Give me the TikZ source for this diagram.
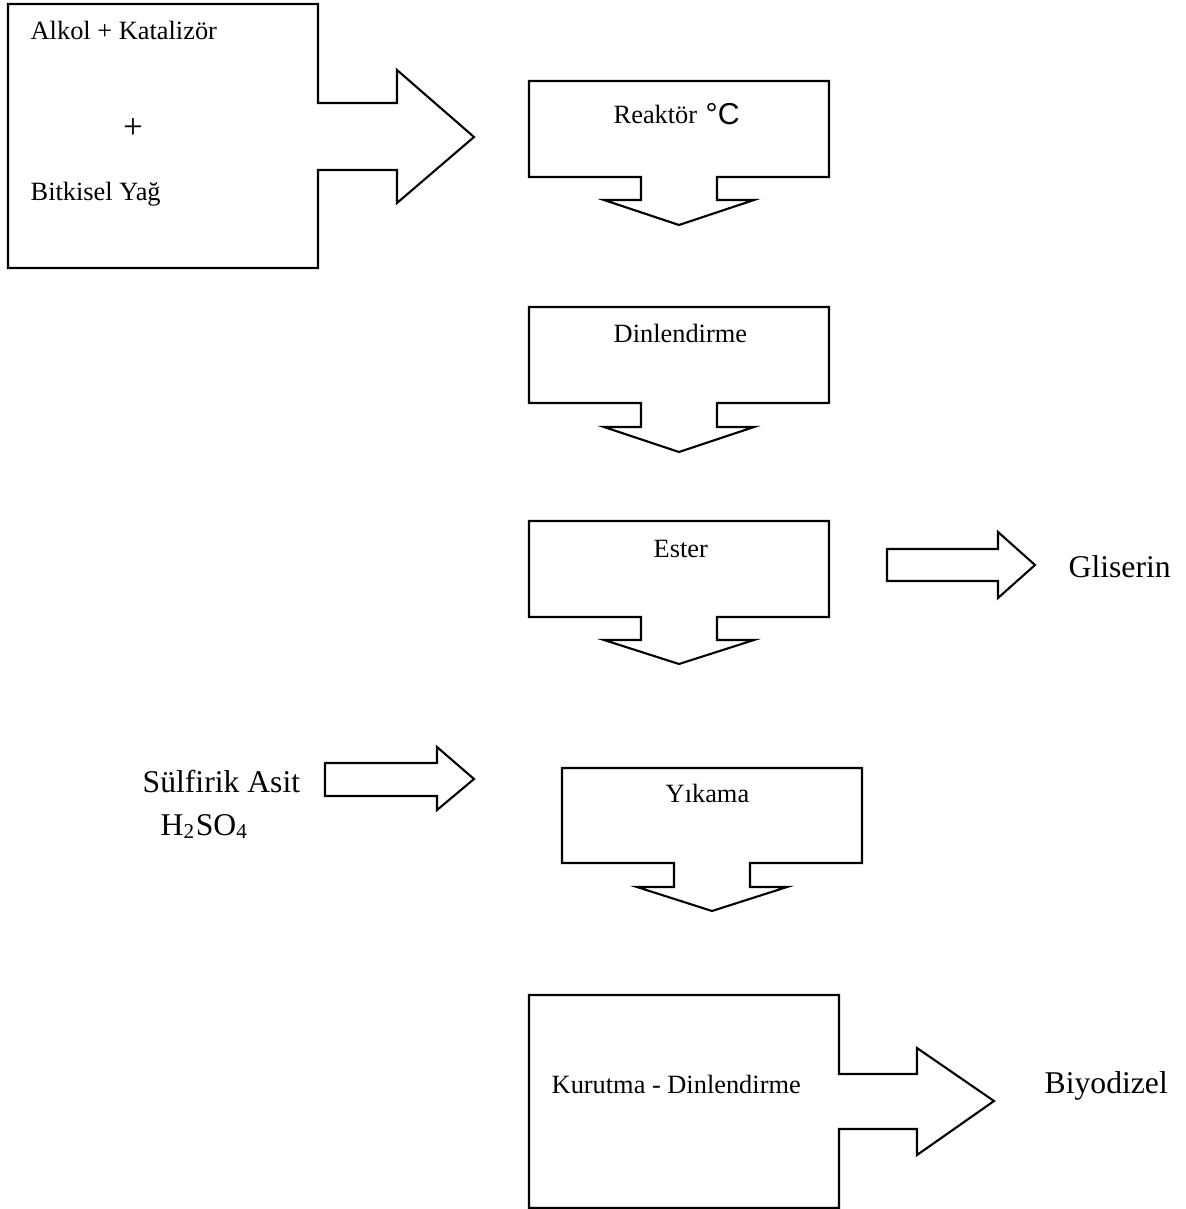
\documentclass[tikz,border=0pt]{standalone}
\usepackage{fontspec}
\setmainfont{Liberation Serif}
\newfontfamily\arialfont{Liberation Sans}

\tikzset{
  kutu/.style={draw=black, line width=0.6pt, line join=miter},
  yazi/.style={anchor=base west, inner sep=0pt, font=\fontsize{7.5pt}{9pt}\selectfont},
  buyukyazi/.style={anchor=base west, inner sep=0pt, font=\fontsize{9pt}{11pt}\selectfont},
}

\begin{document}
\begin{tikzpicture}[x=0.01cm, y=-0.01cm]
  \useasboundingbox (0,0) rectangle (1186,1209);

  % 原料の箱(右向き矢印つき)
  \draw[kutu] (8,4) -- (318,4) -- (318,103) -- (397,103) -- (397,70) -- (474,137)
    -- (397,203) -- (397,170) -- (318,170) -- (318,268) -- (8,268) -- cycle;
  \node[yazi] (alkol) at (30,39) {Alkol + Katalizör};
  \node[anchor=center, inner sep=0pt, font=\fontsize{10pt}{12pt}\selectfont] (arti) at (133,129) {+};
  \node[yazi] (yag) at (30,200) {Bitkisel Yağ};

  % 反応器
  \draw[kutu, shift={(679,81)}] (-150,0) -- (150,0) -- (150,96) -- (38,96) -- (38,119)
    -- (75,119) -- (0,144) -- (-75,119) -- (-38,119) -- (-38,96) -- (-150,96) -- cycle;
  \node[yazi] (reaktor) at (613,123) {Reaktör};
  \node[anchor=base west, inner sep=0pt, font=\arialfont\fontsize{8.6pt}{10pt}\selectfont] (derece) at (705,124) {°C};

  % 休ませる
  \draw[kutu, shift={(679,307)}] (-150,0) -- (150,0) -- (150,96) -- (38,96) -- (38,120)
    -- (75,120) -- (0,145) -- (-75,120) -- (-38,120) -- (-38,96) -- (-150,96) -- cycle;
  \node[yazi] (dinlendirme) at (613,342) {Dinlendirme};

  % エステル
  \draw[kutu, shift={(679,521)}] (-150,0) -- (150,0) -- (150,96) -- (38,96) -- (38,119)
    -- (75,119) -- (0,143) -- (-75,119) -- (-38,119) -- (-38,96) -- (-150,96) -- cycle;
  \node[yazi] (ester) at (653,557) {Ester};

  % グリセリンへの矢印
  \draw[kutu] (887,549) -- (998,549) -- (998,532) -- (1035,565) -- (998,598)
    -- (998,581) -- (887,581) -- cycle;
  \node[buyukyazi] (gliserin) at (1068,577) {Gliserin};

  % 硫酸からの矢印
  \draw[kutu] (325,763) -- (437,763) -- (437,747) -- (474,779) -- (437,810)
    -- (437,796) -- (325,796) -- cycle;
  \node[buyukyazi] (asit) at (142,792) {Sülfirik Asit};
  \node[buyukyazi] (formul) at (160,835) {H\textsubscript{2}SO\textsubscript{4}};

  % 洗浄
  \draw[kutu, shift={(712,768)}] (-150,0) -- (150,0) -- (150,95) -- (38,95) -- (38,119)
    -- (75,119) -- (0,143) -- (-75,119) -- (-38,119) -- (-38,95) -- (-150,95) -- cycle;
  \node[yazi] (yikama) at (665,802) {Yıkama};

  % 乾燥の箱(右向き矢印つき)
  \draw[kutu] (529,995) -- (839,995) -- (839,1074) -- (917,1074) -- (917,1048) -- (994,1101)
    -- (917,1155) -- (917,1129) -- (839,1129) -- (839,1208) -- (529,1208) -- cycle;
  \node[yazi] (kurutma) at (551,1093) {Kurutma - Dinlendirme};
  \node[buyukyazi] (biyodizel) at (1044,1093) {Biyodizel};
\end{tikzpicture}
\end{document}
